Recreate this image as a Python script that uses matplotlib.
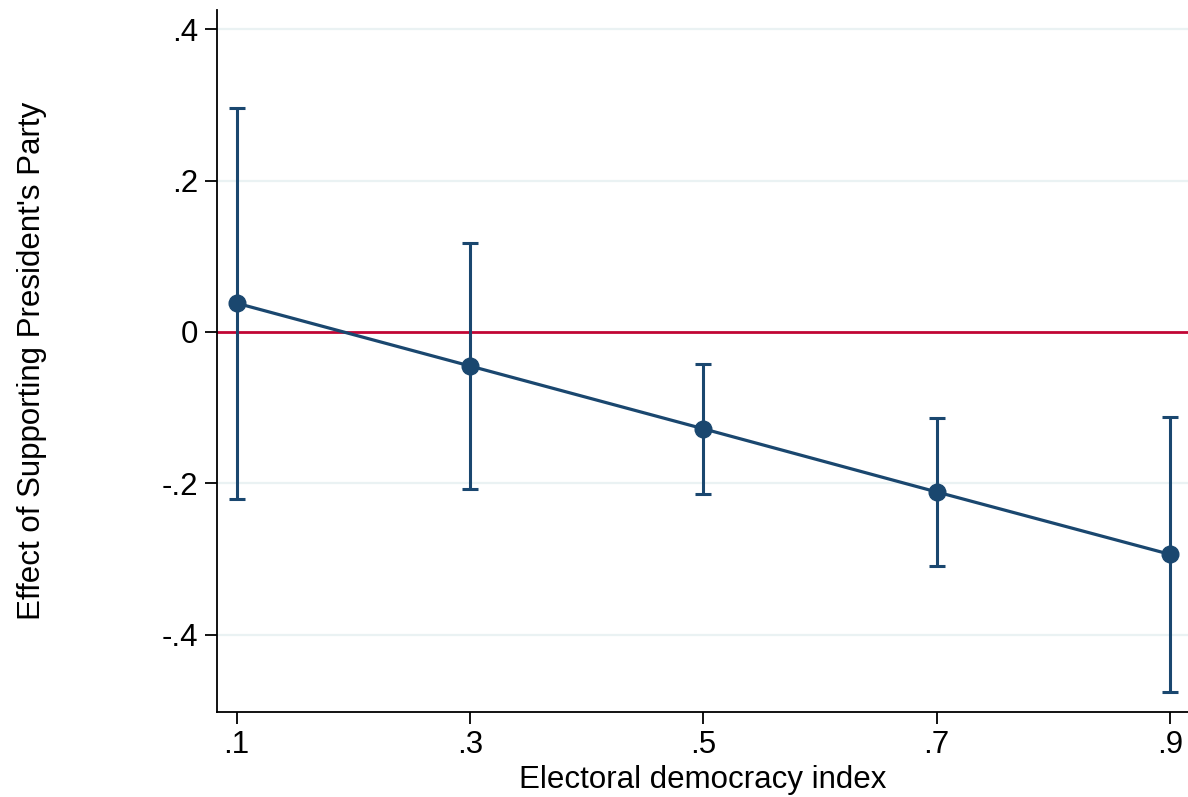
import matplotlib
matplotlib.use("Agg")
import matplotlib.pyplot as plt

plt.rcParams['font.family'] = ['Liberation Sans', 'DejaVu Sans']

# data
edi = [0.1, 0.3, 0.5, 0.7, 0.9]
effect = [0.038, -0.045, -0.128, -0.2115, -0.294]
ci_low = [-0.221, -0.208, -0.214, -0.309, -0.476]
ci_high = [0.2965, 0.117, -0.043, -0.114, -0.112]

xticks = [0.1, 0.3, 0.5, 0.7, 0.9]
xtick_labels = ['.1', '.3', '.5', '.7', '.9']
yticks = [-0.4, -0.2, 0, 0.2, 0.4]
ytick_labels = ['-.4', '-.2', '0', '.2', '.4']

navy = '#1a476f'
red = '#c10534'

fig = plt.figure(figsize=(11.88, 7.97), dpi=100)
ax = fig.add_axes([0.1824, 0.107, 0.8176, 0.8805])

for y in [-0.4, -0.2, 0.2, 0.4]:
    ax.axhline(y, color='#eaf2f3', lw=1.6, zorder=0)
ax.axhline(0, color=red, lw=2.0, zorder=1)

err_lo = [e - l for e, l in zip(effect, ci_low)]
err_hi = [h - e for e, h in zip(effect, ci_high)]
ax.errorbar(edi, effect, yerr=[err_lo, err_hi], fmt='none', ecolor=navy,
            elinewidth=2.2, capsize=5.8, capthick=2.2, zorder=2)
ax.plot(edi, effect, color=navy, lw=2.3, marker='o', markersize=12,
        markerfacecolor=navy, markeredgecolor=navy, zorder=3)

ax.set_xlim(0.0829, 0.9154)
ax.set_ylim(-0.502, 0.4256)

ax.set_xticks(xticks)
ax.set_xticklabels(xtick_labels)
ax.set_yticks(yticks)
ax.set_yticklabels(ytick_labels)
ax.tick_params(axis='both', labelsize=22.5, length=8.5, width=1.3, color='black', pad=5)

for side in ['top', 'right']:
    ax.spines[side].set_visible(False)
for side in ['left', 'bottom']:
    ax.spines[side].set_linewidth(1.3)

ax.set_xlabel('Electoral democracy index', fontsize=22.5, labelpad=3)
ax.set_ylabel("Effect of Supporting President's Party", fontsize=22.5, labelpad=82)

fig.savefig('out.png', dpi=100)
